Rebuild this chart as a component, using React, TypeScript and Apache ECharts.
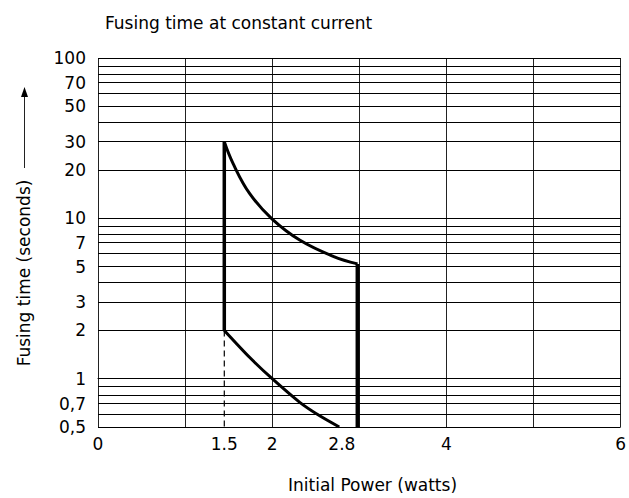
import React, { useEffect, useRef } from "react";
import * as echarts from "echarts";

const FONT = "DejaVu Sans";

// x-axis tick labels
const X_TICK_VALUES = [0, 1.45, 2, 2.8, 4, 6];
const X_TICK_LABELS = ["0", "1.5", "2", "2.8", "4", "6"];

// y-axis tick labels (seconds)
const Y_LABEL_VALUES = [0.5, 0.7, 1, 2, 3, 5, 7, 10, 20, 30, 50, 70, 100];
const Y_LABELS = ["0,5", "0,7", "1", "2", "3", "5", "7", "10", "20", "30", "50", "70", "100"];

// horizontal grid values (seconds)
const Y_GRID_VALUES = [0.5, 0.6, 0.7, 0.8, 0.9, 1, 2, 3, 4, 5, 6, 7, 8, 9, 10, 20, 30, 40, 50, 60, 70, 80, 90, 100];

// upper boundary curve
const UPPER_X = [1.45, 1.55, 1.74, 2.0, 2.32, 2.7, 2.98];
const UPPER_Y = [30, 22, 14.3, 9.9, 7.3, 5.8, 5.2];

// lower boundary curve
const LOWER_X = [1.45, 1.74, 2.0, 2.32, 2.55, 2.77];
const LOWER_Y = [2, 1.36, 1.0, 0.71, 0.585, 0.5];

// left vertical edge
const LEFT_X = [1.45, 1.45];
const LEFT_Y = [2, 30];

// right vertical edge
const RIGHT_X = [2.98, 2.98];
const RIGHT_Y = [5.2, 0.5];

// dashed drop line
const DASH_X = [1.45, 1.45];
const DASH_Y = [2, 0.5];

const lg = (v: number) => Math.log10(v);
const pts = (xs: number[], ys: number[]) => xs.map((x, i) => [x, lg(ys[i])]);

export default function App() {
  const ref = useRef<HTMLDivElement>(null);

  useEffect(() => {
    document.body.style.margin = "0";
    if (!ref.current) return;
    const chart = echarts.init(ref.current, undefined, { renderer: "svg" });

    const textStyle = { fontFamily: FONT, fontSize: 17, color: "#000" };

    chart.setOption({
      animation: false,
      backgroundColor: "#fff",
      title: {
        text: "Fusing time at constant current",
        left: 100,
        top: 9,
        textStyle: { ...textStyle, fontWeight: "normal" },
      },
      grid: { left: 98, right: 8, top: 58, bottom: 71, containLabel: false },
      xAxis: {
        type: "value",
        min: 0,
        max: 6,
        interval: 1,
        axisLine: { show: true, lineStyle: { color: "#000", width: 1 } },
        axisTick: { show: false },
        splitLine: { show: true, lineStyle: { color: "#222", width: 1 } },
        axisLabel: {
          customValues: X_TICK_VALUES,
          margin: 8,
          ...textStyle,
          formatter: (val: number) => {
            const i = X_TICK_VALUES.findIndex((v) => Math.abs(v - val) < 1e-6);
            return i >= 0 ? X_TICK_LABELS[i] : "";
          },
        },
      },
      yAxis: {
        type: "value",
        min: lg(0.5),
        max: 2,
        axisLine: { show: false },
        axisTick: { show: false },
        splitLine: { show: false },
        axisLabel: {
          customValues: Y_LABEL_VALUES.map(lg),
          margin: 12,
          ...textStyle,
          formatter: (val: number) => {
            const i = Y_LABEL_VALUES.findIndex((v) => Math.abs(lg(v) - val) < 1e-6);
            return i >= 0 ? Y_LABELS[i] : "";
          },
        },
      },
      graphic: [
        {
          type: "text",
          left: 288,
          top: 476,
          style: { text: "Initial Power (watts)", font: `17px "${FONT}"`, fill: "#000" },
        },
        {
          type: "text",
          x: 24,
          y: 273,
          rotation: Math.PI / 2,
          style: {
            text: "Fusing time (seconds)",
            font: `17px "${FONT}"`,
            fill: "#000",
            align: "center",
            verticalAlign: "middle",
          },
        },
        {
          type: "line",
          shape: { x1: 24.5, y1: 168, x2: 24.5, y2: 96 },
          style: { stroke: "#222", lineWidth: 1 },
        },
        {
          type: "polygon",
          shape: { points: [[24.5, 87], [21, 97], [28, 97]] },
          style: { fill: "#000" },
        },
      ],
      series: [
        {
          type: "line",
          z: 1,
          data: pts(DASH_X, DASH_Y),
          symbol: "none",
          silent: true,
          lineStyle: { color: "#000", width: 1.2, type: [6, 4] },
          markLine: {
            silent: true,
            symbol: ["none", "none"],
            label: { show: false },
            animation: false,
            lineStyle: { color: "#000", width: 1, type: "solid" },
            emphasis: { disabled: true },
            data: Y_GRID_VALUES.map((v) => ({ yAxis: lg(v) })),
          },
        },
        {
          type: "line",
          z: 3,
          data: pts(LEFT_X, LEFT_Y),
          symbol: "none",
          silent: true,
          lineStyle: { color: "#000", width: 3.5 },
        },
        {
          type: "line",
          z: 3,
          data: pts(RIGHT_X, RIGHT_Y),
          symbol: "none",
          silent: true,
          lineStyle: { color: "#000", width: 4 },
        },
        {
          type: "line",
          z: 3,
          data: pts(UPPER_X, UPPER_Y),
          symbol: "none",
          smooth: 0.4,
          silent: true,
          lineStyle: { color: "#000", width: 3 },
        },
        {
          type: "line",
          z: 3,
          data: pts(LOWER_X, LOWER_Y),
          symbol: "none",
          smooth: 0.25,
          silent: true,
          lineStyle: { color: "#000", width: 3 },
        },
      ],
    });

    return () => chart.dispose();
  }, []);

  return <div ref={ref} style={{ width: 629, height: 498 }} />;
}
